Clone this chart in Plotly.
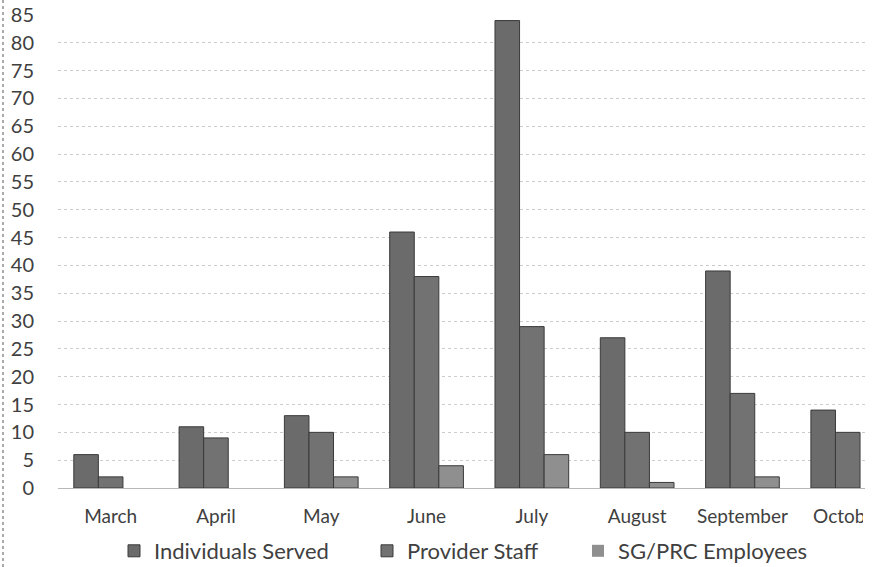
import plotly.graph_objects as go

# Monthly counts
months = ["March", "April", "May", "June", "July", "August", "September", "October"]
individuals_served = [6, 11, 13, 46, 84, 27, 39, 14]
provider_staff = [2, 9, 10, 38, 29, 10, 17, 10]
sg_prc_employees = [0, 0, 2, 4, 6, 1, 2, 0]

y_ticks = list(range(0, 90, 5))

W, H = 875, 567
ML, MR, MT, MB = 58, 10, 15, 79
plot_w = W - ML - MR
plot_h = H - MT - MB
slot = 105.3  # pixel width of one month group
x_max = -0.5 + plot_w / slot  # last group runs past the right edge

text_color = "#404040"


def outline(values):
    # no outline on empty bars, so a zero leaves no sliver on the axis
    return dict(color="#3a3a3a", width=[1 if v > 0 else 0 for v in values])


fig = go.Figure()
fig.add_trace(go.Bar(x=months, y=individuals_served, name="Individuals Served",
                     marker=dict(color="#6b6b6b", line=outline(individuals_served)),
                     legend="legend"))
fig.add_trace(go.Bar(x=months, y=provider_staff, name="Provider Staff",
                     marker=dict(color="#727272", line=outline(provider_staff)),
                     legend="legend2"))
fig.add_trace(go.Bar(x=months, y=sg_prc_employees, name="SG/PRC Employees",
                     marker=dict(color="#8f8f8f", line=outline(sg_prc_employees)),
                     legend="legend3"))


def px_to_paper_x(px):
    return (px - ML) / plot_w


def px_to_paper_y(py):
    return (H - MB - py) / plot_h


legend_style = dict(orientation="h", xanchor="left", yanchor="middle",
                    y=px_to_paper_y(551), bgcolor="rgba(0,0,0,0)",
                    font=dict(family="Lato", size=22, color=text_color),
                    itemwidth=30, visible=True)

fig.update_layout(
    width=W, height=H,
    margin=dict(l=ML, r=MR, t=MT, b=MB, autoexpand=False),
    paper_bgcolor="white", plot_bgcolor="white",
    showlegend=True,
    barmode="group", bargap=0.3, bargroupgap=0,
    font=dict(family="Lato", color=text_color),
    legend=dict(x=px_to_paper_x(114), **legend_style),
    legend2=dict(x=px_to_paper_x(367), **legend_style),
    legend3=dict(x=px_to_paper_x(578), **legend_style),
    xaxis=dict(type="category", categoryorder="array", categoryarray=months,
               range=[-0.5, x_max], showgrid=False, showline=False,
               zeroline=False, ticks="", ticklabelstandoff=15,
               tickfont=dict(family="Lato", size=19, color=text_color)),
    yaxis=dict(range=[0, 85], tickvals=y_ticks, showgrid=True,
               gridcolor="#cccccc", griddash="dot", gridwidth=1,
               zeroline=True, zerolinecolor="#b8b8b8", zerolinewidth=1,
               showline=False, ticks="", ticklabelstandoff=23,
               tickfont=dict(family="Lato", size=20, color=text_color)),
    shapes=[
        # left frame edge of the chart box
        dict(type="line", xref="paper", yref="paper",
             x0=px_to_paper_x(3), x1=px_to_paper_x(3),
             y0=px_to_paper_y(H), y1=px_to_paper_y(0),
             line=dict(color="#555555", width=1, dash="dot"), layer="above"),
        # right edge of the chart box cuts the last label
        dict(type="rect", xref="paper", yref="paper",
             x0=px_to_paper_x(863), x1=px_to_paper_x(W + 20),
             y0=px_to_paper_y(532), y1=px_to_paper_y(492),
             line=dict(width=0), fillcolor="white", layer="above"),
    ],
)

fig.write_html("out.html")
